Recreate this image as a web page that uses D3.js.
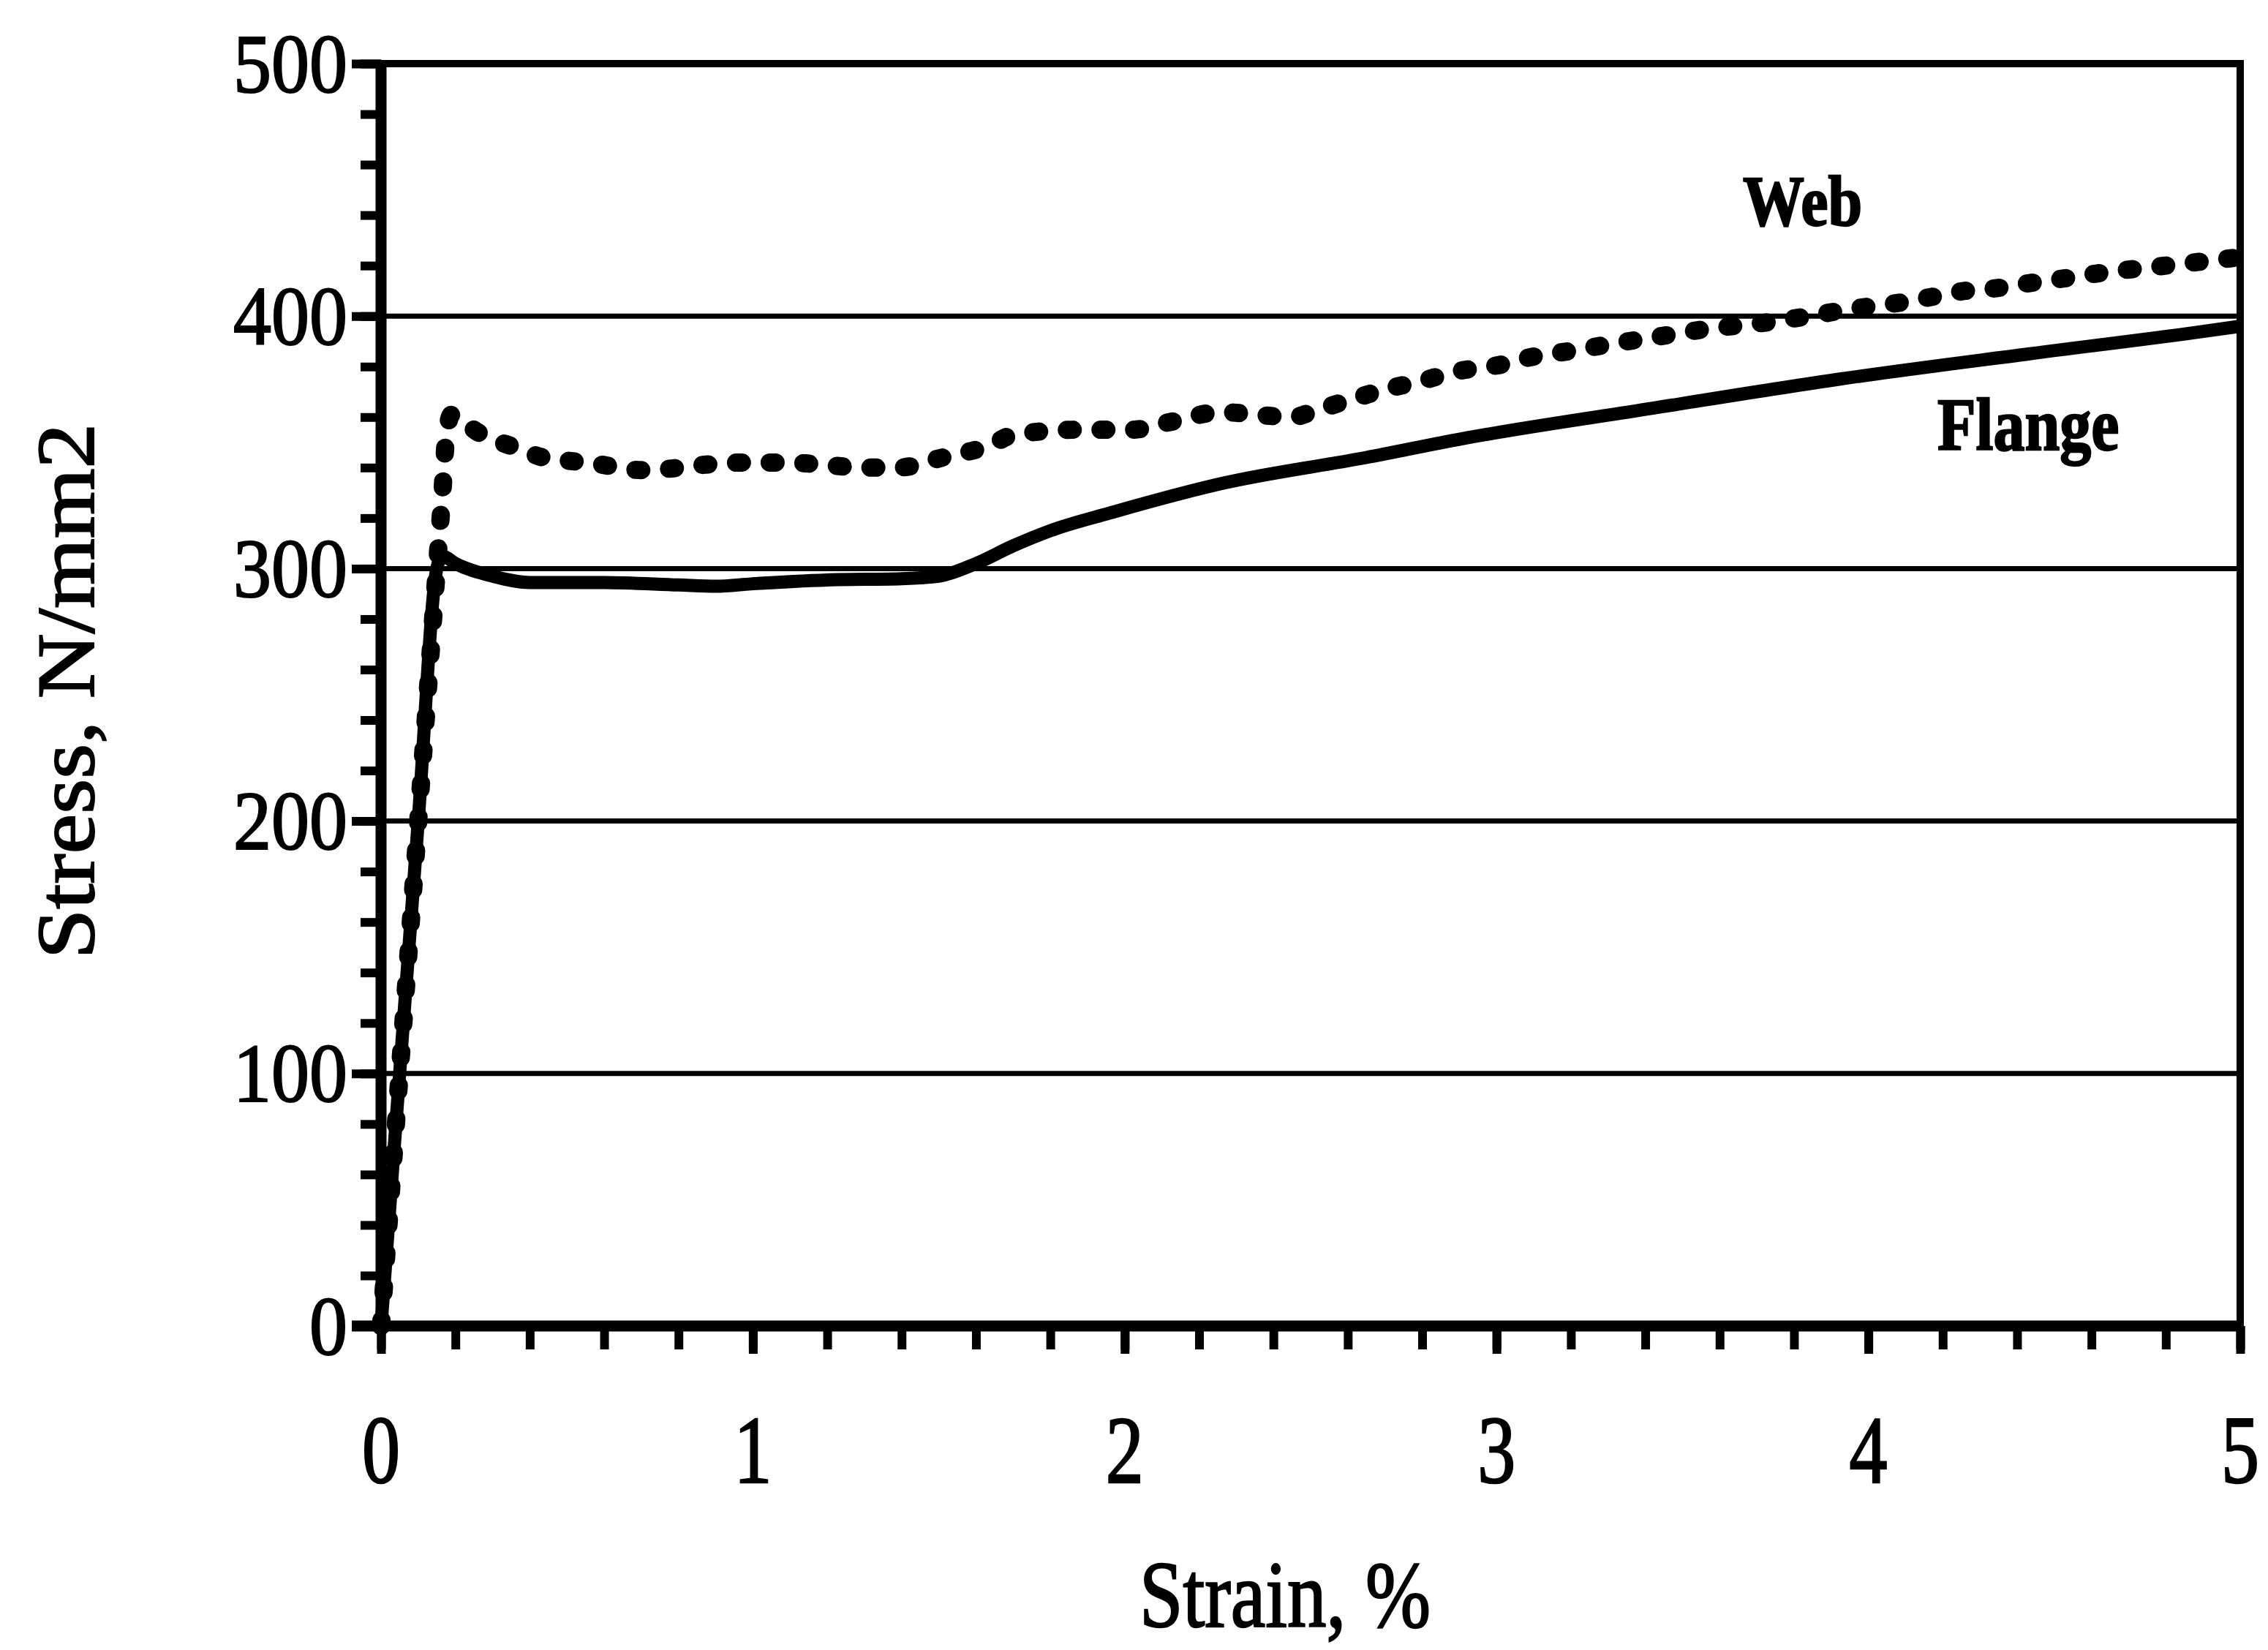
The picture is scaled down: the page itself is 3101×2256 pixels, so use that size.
<!DOCTYPE html>
<html>
<head>
<meta charset="utf-8">
<script src="https://cdn.jsdelivr.net/npm/d3@7"></script>
<style>
body { margin: 0; background: #fff; }
svg { display: block; }
text { font-family: "Liberation Serif", "Times New Roman", serif; fill: #000; stroke: #000; stroke-width: 2px; }
</style>
</head>
<body>
<div id="chart"></div>
<script>
// data (strain in %, stress in N/mm2)
var flangeStrain = [0, 0.05, 0.1, 0.15, 0.165, 0.2, 0.3, 0.4, 0.6, 0.8, 0.9, 1.0, 1.2, 1.4, 1.5, 1.6, 1.7, 1.8, 1.96, 2.27, 2.65, 2.91, 3.42, 3.92, 4.43, 4.89, 5.0];
var flangeStress = [0, 100, 200, 300, 305, 302, 297, 294.5, 294.5, 293.5, 293, 294, 295.5, 296, 297, 302, 309, 315, 322, 334, 344, 351.5, 363.5, 375, 385, 393.7, 396];

var webStrain = [0, 0.05, 0.1, 0.15, 0.165, 0.175, 0.19, 0.26, 0.36, 0.45, 0.51, 0.57, 0.64, 0.70, 0.77, 0.86, 0.98, 1.09, 1.16, 1.30, 1.39, 1.51, 1.64, 1.70, 1.88, 2.02, 2.12, 2.26, 2.35, 2.45, 2.52, 2.61, 2.70, 2.79, 2.89, 3.02, 3.10, 3.19, 3.31, 3.44, 3.57, 3.70, 3.84, 3.96, 4.07, 4.17, 4.26, 4.34, 4.43, 4.53, 4.62, 4.80, 4.98];
var webStress = [0, 100, 200, 300, 330, 352, 361, 354, 348, 343.5, 342.6, 341.7, 340, 339, 339.5, 341, 342, 342, 341.5, 340, 340, 344, 349, 353, 355, 355, 358, 362, 361, 360, 363, 367, 371, 374, 378, 381, 384, 386, 389, 392, 395, 397, 400, 403, 405, 407.6, 410, 411, 413, 415, 417, 420, 423];

var xTicks = [0, 1, 2, 3, 4, 5];
var yTicks = [0, 100, 200, 300, 400, 500];
var xMinor = d3.range(0, 5.001, 0.2);
var yMinor = d3.range(0, 501, 20);
var xTitle = "Strain, %";
var yTitle = "Stress, N/mm2";
var seriesLabels = ["Web", "Flange"];

var W = 3101, H = 2256;
var margin = { top: 87, right: 38, bottom: 443, left: 521 };

var svg = d3.select("#chart").append("svg")
    .attr("width", W)
    .attr("height", H);

var x = d3.scaleLinear().domain([0, 5]).range([margin.left, W - margin.right]);
var y = d3.scaleLinear().domain([0, 500]).range([H - margin.bottom, margin.top]);

// text drawn with a vertical stretch, the scan is taller than a plain serif
function stretchText(str, tx, ty, size, sy, anchor, weight) {
    return svg.append("text")
        .attr("transform", "translate(" + tx + "," + ty + ") scale(1," + sy + ")")
        .attr("text-anchor", anchor)
        .style("font-size", size + "px")
        .style("font-weight", weight || "normal")
        .text(str);
}

// gridlines
svg.append("g").selectAll("line")
    .data(yTicks.filter(function(d) { return d > 0 && d < 500; }))
    .enter().append("line")
    .attr("x1", x(0) - 40).attr("x2", x(5))
    .attr("y1", function(d) { return y(d); })
    .attr("y2", function(d) { return y(d); })
    .attr("stroke", "#000").attr("stroke-width", 7);

// plot border top and right
svg.append("line")
    .attr("x1", x(0) - 40).attr("x2", x(5) + 5)
    .attr("y1", y(500)).attr("y2", y(500))
    .attr("stroke", "#000").attr("stroke-width", 10);
svg.append("line")
    .attr("x1", x(5)).attr("x2", x(5))
    .attr("y1", y(500)).attr("y2", y(0))
    .attr("stroke", "#000").attr("stroke-width", 10);

// curves
var line = d3.line()
    .x(function(d) { return x(d[0]); })
    .y(function(d) { return y(d[1]); })
    .curve(d3.curveMonotoneX);

svg.append("path")
    .datum(d3.zip(webStrain, webStress))
    .attr("d", line)
    .attr("fill", "none")
    .attr("stroke", "#000")
    .attr("stroke-width", 25)
    .attr("stroke-linecap", "round")
    .attr("stroke-dasharray", "8 38");

svg.append("path")
    .datum(d3.zip(flangeStrain, flangeStress))
    .attr("d", line)
    .attr("fill", "none")
    .attr("stroke", "#000")
    .attr("stroke-width", 18)
    .attr("stroke-linejoin", "round");

// axes
var yMinorAxis = d3.axisLeft(y).tickValues(yMinor).tickSize(28).tickFormat("");
var yMajorAxis = d3.axisLeft(y).tickValues(yTicks).tickSize(40).tickFormat("");
var xMinorAxis = d3.axisBottom(x).tickValues(xMinor).tickSize(32).tickFormat("");
var xMajorAxis = d3.axisBottom(x).tickValues(xTicks).tickSize(38).tickFormat("");

[yMinorAxis, yMajorAxis].forEach(function(ax) {
    var g = svg.append("g").attr("transform", "translate(" + x(0) + ",0)").call(ax);
    g.select(".domain").remove();
    g.selectAll(".tick line").attr("stroke", "#000").attr("stroke-width", 12);
});
[xMinorAxis, xMajorAxis].forEach(function(ax) {
    var g = svg.append("g").attr("transform", "translate(0," + y(0) + ")").call(ax);
    g.select(".domain").remove();
    g.selectAll(".tick line").attr("stroke", "#000").attr("stroke-width", 12);
});

svg.append("line")
    .attr("x1", x(0)).attr("x2", x(0))
    .attr("y1", y(500) - 5).attr("y2", y(0) + 8)
    .attr("stroke", "#000").attr("stroke-width", 15);
svg.append("line")
    .attr("x1", x(0) - 40).attr("x2", x(5) + 5)
    .attr("y1", y(0)).attr("y2", y(0))
    .attr("stroke", "#000").attr("stroke-width", 15);

// tick labels
var yLabSize = 104, yLabSy = 1.1;
yTicks.forEach(function(v) {
    stretchText(String(v), 475, y(v) + 0.676 * yLabSize * yLabSy / 2, yLabSize, yLabSy, "end");
});
var xLabSize = 104, xLabSy = 1.26;
xTicks.forEach(function(v) {
    stretchText(String(v), x(v), 1938 + 0.676 * xLabSize * xLabSy, xLabSize, xLabSy, "middle");
});

// axis titles
stretchText(xTitle, 1757, 2224, 107, 1.2, "middle");
svg.append("text")
    .attr("transform", "translate(128,945) rotate(-90) scale(1.1,1)")
    .attr("text-anchor", "middle")
    .style("font-size", "112px")
    .text(yTitle);

// series labels
stretchText(seriesLabels[0], 2383, 308, 84, 1.15, "start", "bold");
stretchText(seriesLabels[1], 2649, 615, 86, 1.18, "start", "bold");
</script>
</body>
</html>
